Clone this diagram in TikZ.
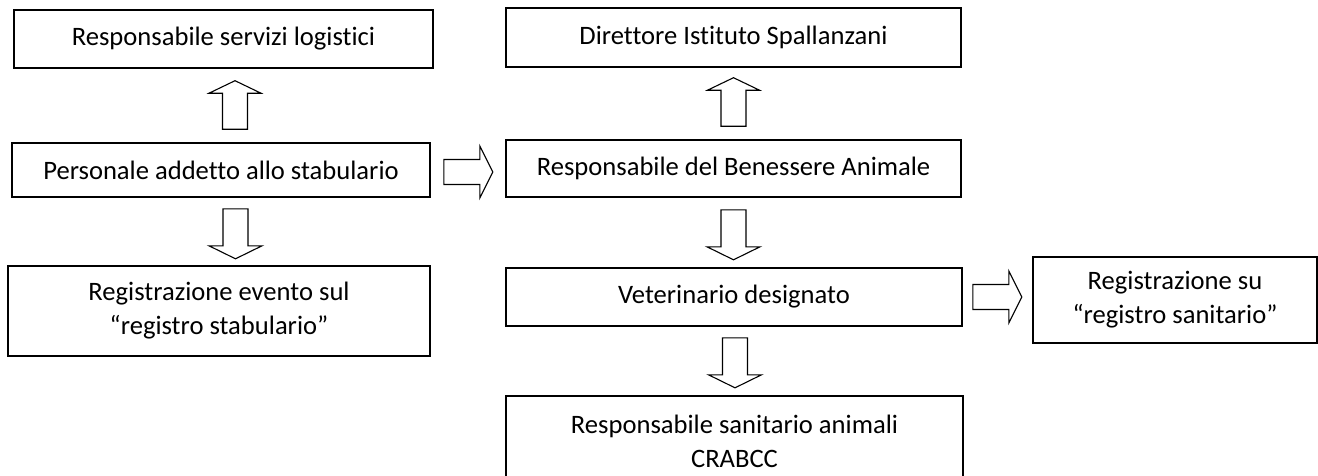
\documentclass[tikz,border=0pt]{standalone}
\usepackage{fontspec}
\setmainfont{Carlito}[Ligatures=NoCommon]
\usetikzlibrary{calc}
\tikzset{
  boxline/.style={draw, line width=1.6pt},
  box/.style={boxline, align=center, inner sep=0pt,
    font=\fontsize{26.6}{34}\selectfont},
  blk/.style={draw, line width=1.1pt, fill=white, line join=miter}
}
\newcommand\arrR[1]{\draw[blk] ($(#1)+(0,12.5)$) -- ++(36,0) -- ++(0,13.5) -- ++(13,-26) -- ++(-13,-26) -- ++(0,13.5) -- ++(-36,0) -- cycle;}
\newcommand\arrU[1]{\draw[blk] ($(#1)+(-12.5,0)$) -- ++(0,36) -- ++(-13.5,0) -- ++(26,12.5) -- ++(26,-12.5) -- ++(-13.5,0) -- ++(0,-36) -- cycle;}
\newcommand\arrD[1]{\draw[blk] ($(#1)+(-12.5,0)$) -- ++(0,-37) -- ++(-14,0) -- ++(26.5,-13) -- ++(26.5,13) -- ++(-14,0) -- ++(0,37) -- cycle;}
\begin{document}
\begin{tikzpicture}[x=1pt,y=1pt]
\useasboundingbox (0,0) rectangle (1318,-475);
\node[box, minimum width=419pt, minimum height=58pt] (resp) at (223.5,-39) {Responsabile servizi logistici};
\node[box, minimum width=418pt, minimum height=54pt] (pers) at (221,-170) {Personale addetto allo stabulario};
\node[box, minimum width=422pt, minimum height=90pt] (regev) at (219,-311) {Registrazione evento sul\\“registro stabulario”};
\node[box, minimum width=455pt, minimum height=59pt] (dir) at (733.5,-37.5) {Direttore Istituto Spallanzani};
\node[box, minimum width=455pt, minimum height=57pt] (ben) at (733.5,-168.5) {Responsabile del Benessere Animale};
\node[box, minimum width=456pt, minimum height=58pt] (vet) at (734,-297) {Veterinario designato};
\node[box, draw=none, minimum width=455pt, minimum height=88pt] (rsan) at (734.5,-441) {Responsabile sanitario animali\\CRABCC};
\draw[boxline] ($(rsan.south west)+(0,-30)$) |- (rsan.north east) -- ($(rsan.south east)+(0,-30)$);
\node[box, minimum width=284pt, minimum height=86pt] (regsan) at (1175,-300) {Registrazione su\\“registro sanitario”};
\coordinate (a1) at ($(pers.north)+(14,13)$);
\coordinate (a2) at ($(pers.south)+(14.5,-11)$);
\coordinate (a3) at ($(pers.east)+(13,-2)$);
\coordinate (a4) at ($(ben.north)+(0,13)$);
\coordinate (a5) at ($(ben.south)+(0,-12)$);
\coordinate (a6) at ($(vet.south)+(1,-11)$);
\coordinate (a7) at ($(vet.east)+(10,0)$);
\arrU{a1}
\arrD{a2}
\arrR{a3}
\arrU{a4}
\arrD{a5}
\arrD{a6}
\arrR{a7}
\end{tikzpicture}
\end{document}
